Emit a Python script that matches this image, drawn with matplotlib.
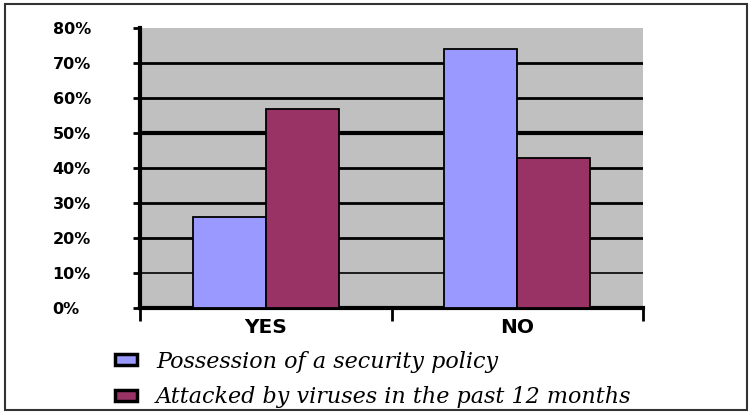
import matplotlib.pyplot as plt
import numpy as np
from matplotlib.patches import Rectangle, Patch

# survey answers and the share in each group
answers = ['YES', 'NO']
policy_share = [26, 74]
virus_share = [57, 43]
series_names = ['Possession of a security policy',
                'Attacked by viruses in the past 12 months']
y_ticks = [0, 10, 20, 30, 40, 50, 60, 70, 80]

fig = plt.figure(figsize=(7.5, 4.16), dpi=100)
ax = fig.add_axes([0.1867, 0.2596, 0.6707, 0.673])
ax.set_facecolor('#C0C0C0')

x = np.arange(len(answers))
w = 0.29
ax.bar(x - w / 2, policy_share, w, color='#9999FF', edgecolor='black', linewidth=1.3, zorder=3)
ax.bar(x + w / 2, virus_share, w, color='#993366', edgecolor='black', linewidth=1.3, zorder=3)

ax.set_xlim(-0.5, 1.5)
ax.set_ylim(0, 80)

# horizontal grid, heavier at the half way line
for v in y_ticks[1:-1]:
    lw = 3 if v == 50 else (1.2 if v == 10 else 2)
    ax.axhline(v, color='black', linewidth=lw, zorder=1)

ax.set_yticks(y_ticks)
ax.set_yticklabels([f'{v}%' for v in y_ticks], fontsize=11.5, fontweight='bold',
                   family='DejaVu Sans', ha='left')
ax.tick_params(axis='y', length=5, width=2, pad=58)

# category boundaries carry the x ticks, labels sit at the centres
ax.set_xticks([-0.5, 0.5, 1.5])
ax.set_xticklabels([])
ax.set_xticks(x, minor=True)
ax.set_xticklabels(answers, minor=True, fontsize=14.5, fontweight='bold', family='DejaVu Sans')
ax.tick_params(axis='x', which='major', length=9, width=2, direction='out')
ax.tick_params(axis='x', which='minor', length=0, pad=7)

for s in ['top', 'right']:
    ax.spines[s].set_visible(False)
ax.spines['left'].set_linewidth(3)
ax.spines['bottom'].set_linewidth(3)

handles = [Patch(facecolor='#9999FF', edgecolor='black', linewidth=2.5),
           Patch(facecolor='#993366', edgecolor='black', linewidth=2.5)]
fig.legend(handles, series_names, loc='upper left', bbox_to_anchor=(0.153, 0.157),
           frameon=False, prop={'family': 'DejaVu Serif', 'style': 'italic', 'size': 16},
           handlelength=1.0, handleheight=0.4, handletextpad=0.85, labelspacing=0.62,
           borderaxespad=0, borderpad=0)

# outer frame round the whole chart
fig.patches.append(Rectangle((0.006, 0.014), 0.99, 0.976, transform=fig.transFigure,
                             fill=False, edgecolor='#333333', linewidth=1.5))

fig.savefig('out.png', dpi=100)
